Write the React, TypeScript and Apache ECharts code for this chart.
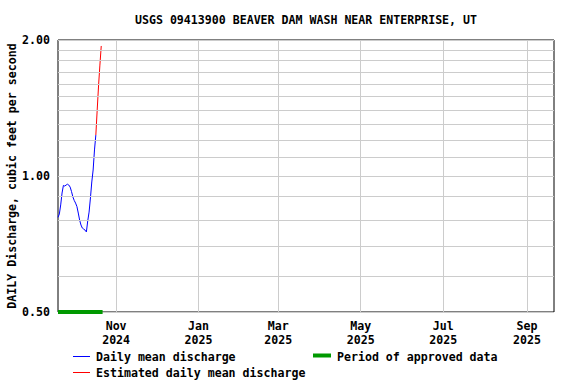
import React, { useEffect, useRef } from "react";
import * as echarts from "echarts";

const TITLE = "USGS 09413900 BEAVER DAM WASH NEAR ENTERPRISE, UT";
const Y_NAME = "DAILY Discharge, cubic feet per second";

const dates = [
  "2024-09-19", "2024-09-20", "2024-09-21", "2024-09-22", "2024-09-23",
  "2024-09-24", "2024-09-25", "2024-09-26", "2024-09-27", "2024-09-28",
  "2024-09-29", "2024-09-30", "2024-10-01", "2024-10-02", "2024-10-03",
  "2024-10-04", "2024-10-05", "2024-10-06", "2024-10-07", "2024-10-08",
  "2024-10-09", "2024-10-10", "2024-10-11", "2024-10-12", "2024-10-13",
  "2024-10-14", "2024-10-15", "2024-10-16", "2024-10-17", "2024-10-18",
  "2024-10-19", "2024-10-20", "2024-10-21",
];

// Daily mean discharge (blue): dates[0..28]
const dailyMean = [
  0.81, 0.824, 0.863, 0.917, 0.953, 0.95, 0.955, 0.959, 0.955, 0.945,
  0.924, 0.899, 0.883, 0.871, 0.856, 0.828, 0.799, 0.779, 0.767, 0.763,
  0.759, 0.752, 0.795, 0.832, 0.894, 0.97, 1.031, 1.142, 1.232,
];
// Estimated daily mean discharge (red): dates[28..32]
const estimatedMean = [1.232, 1.4, 1.582, 1.76, 1.94];

const approvedPeriod = ["2024-09-19", "2024-10-22"];
const xRange = ["2024-09-19", "2025-09-21"];
const monthTicks = ["2024-11-01", "2025-01-01", "2025-03-01", "2025-05-01", "2025-07-01", "2025-09-01"];
const yMinorGrid = [0.6, 0.7, 0.8, 0.9, 1.1, 1.2, 1.3, 1.4, 1.5, 1.6, 1.7, 1.8, 1.9];
const yRange = [0.5, 2];

const MONTHS = ["Jan", "Feb", "Mar", "Apr", "May", "Jun", "Jul", "Aug", "Sep", "Oct", "Nov", "Dec"];
const FONT_FAMILY = '"DejaVu Sans Mono", monospace';
const FS = 11.6;
const FONT = `bold ${FS}px ${FONT_FAMILY}`;

const ts = (d: string) => new Date(d).getTime();

export default function App() {
  const ref = useRef<HTMLDivElement>(null);
  useEffect(() => {
    if (!ref.current) return;
    const chart = echarts.init(ref.current, null, { renderer: "svg" });
    const blueData = dailyMean.map((v, i) => [ts(dates[i]), v]);
    const redData = estimatedMean.map((v, i) => [ts(dates[i + dailyMean.length - 1]), v]);
    const greenData = approvedPeriod.map((d) => [ts(d), yRange[0]]);
    const gridColor = "#cccccc";
    const option: any = {
      animation: false,
      backgroundColor: "#fff",
      grid: {
        left: 58, right: 22, top: 40, bottom: 72,
        containLabel: false,
        outerBoundsMode: "none",
        show: true, borderColor: "#000", borderWidth: 1, backgroundColor: "#fff",
      },
      xAxis: {
        type: "value",
        min: ts(xRange[0]),
        max: ts(xRange[1]),
        axisLine: { show: false },
        axisTick: { show: false },
        splitLine: { show: false },
        axisLabel: {
          customValues: monthTicks.map(ts),
          formatter: (v: number) => {
            const d = new Date(v);
            return MONTHS[d.getUTCMonth()] + "\n" + d.getUTCFullYear();
          },
          fontFamily: FONT_FAMILY, fontSize: FS, fontWeight: "bold", color: "#000",
          lineHeight: 14, margin: 7,
        },
      },
      yAxis: {
        type: "log",
        logBase: 2,
        min: yRange[0],
        max: yRange[1],
        name: Y_NAME,
        nameLocation: "middle",
        nameGap: 40,
        nameMoveOverlap: false,
        nameTextStyle: { fontFamily: FONT_FAMILY, fontSize: FS, fontWeight: "bold", color: "#000" },
        axisLine: { show: false },
        axisTick: { show: false },
        splitLine: { show: true, lineStyle: { color: gridColor, width: 1 } },
        axisLabel: {
          formatter: (v: number) => Number(v).toFixed(2),
          fontFamily: FONT_FAMILY, fontSize: FS, fontWeight: "bold", color: "#000", margin: 8,
        },
      },
      series: [
        {
          name: "grid",
          type: "line",
          data: [],
          z: 1,
          silent: true,
          markLine: {
            silent: true,
            symbol: "none",
            label: { show: false },
            lineStyle: { color: gridColor, width: 1, type: "solid" },
            data: [
              ...monthTicks.map((d) => ({ xAxis: ts(d) })),
              ...yMinorGrid.map((v) => ({ yAxis: v })),
            ],
          },
        },
        {
          name: "Daily mean discharge",
          type: "line",
          data: blueData,
          z: 3,
          symbol: "none",
          lineStyle: { color: "#0000ff", width: 1 },
          itemStyle: { color: "#0000ff" },
        },
        {
          name: "Estimated daily mean discharge",
          type: "line",
          data: redData,
          z: 3,
          symbol: "none",
          lineStyle: { color: "#ff0000", width: 1 },
          itemStyle: { color: "#ff0000" },
        },
        {
          name: "Period of approved data",
          type: "line",
          data: greenData,
          z: 4,
          clip: false,
          symbol: "none",
          lineStyle: { color: "#009900", width: 4 },
          itemStyle: { color: "#009900" },
        },
      ],
      graphic: [
        {
          type: "text", x: 306, y: 20,
          style: { text: TITLE, font: FONT, fill: "#000", textAlign: "center", textVerticalAlign: "middle" },
        },
        { type: "line", shape: { x1: 73, y1: 356.5, x2: 90, y2: 356.5 }, style: { stroke: "#0000ff", lineWidth: 1 } },
        {
          type: "text", x: 96, y: 357,
          style: { text: "Daily mean discharge", font: FONT, fill: "#000", textVerticalAlign: "middle" },
        },
        { type: "line", shape: { x1: 313, y1: 355.5, x2: 331, y2: 355.5 }, style: { stroke: "#009900", lineWidth: 4 } },
        {
          type: "text", x: 337, y: 357,
          style: { text: "Period of approved data", font: FONT, fill: "#000", textVerticalAlign: "middle" },
        },
        { type: "line", shape: { x1: 73, y1: 372.5, x2: 90, y2: 372.5 }, style: { stroke: "#ff0000", lineWidth: 1 } },
        {
          type: "text", x: 96, y: 373,
          style: { text: "Estimated daily mean discharge", font: FONT, fill: "#000", textVerticalAlign: "middle" },
        },
      ],
    };
    chart.setOption(option);
    return () => chart.dispose();
  }, []);
  return <div ref={ref} style={{ width: 576, height: 384, position: "absolute", left: 0, top: 0 }} />;
}
